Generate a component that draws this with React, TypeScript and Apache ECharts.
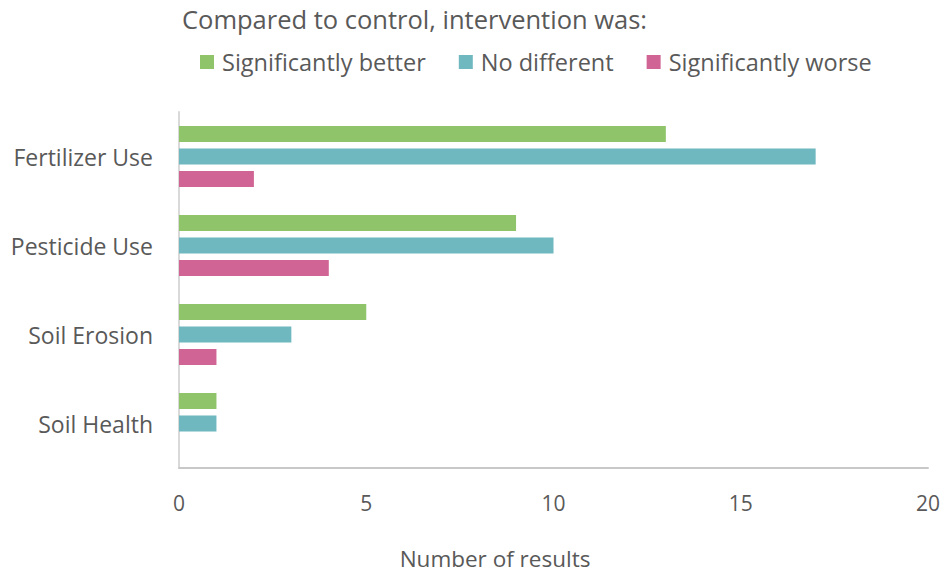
import React, { useEffect, useRef } from "react";
import * as echarts from "echarts";

const categories = ["Fertilizer Use", "Pesticide Use", "Soil Erosion", "Soil Health"];
const seriesNames = ["Significantly better", "No different", "Significantly worse"];
const better = [13, 9, 5, 1];
const noDiff = [17, 10, 3, 1];
const worse = [2, 4, 1, 0];
const colors = ["#8fc46a", "#6fb8c0", "#d06595"];
const xTicks = [0, 5, 10, 15, 20];
const titleText = "Compared to control, intervention was:";
const xAxisName = "Number of results";

const FONT = "'Open Sans', sans-serif";
const TXT = "#595959";

export default function App() {
  const ref = useRef<HTMLDivElement>(null);
  useEffect(() => {
    const chart = echarts.init(ref.current!, null, { renderer: "svg" });
    const data = [better, noDiff, worse];
    chart.setOption({
      animation: false,
      textStyle: { fontFamily: FONT },
      graphic: [
        {
          type: "text",
          left: 182,
          top: 6,
          style: { text: titleText, fontSize: 25.5, fill: TXT, fontFamily: FONT },
        },
        {
          type: "text",
          x: 495,
          y: 558,
          style: {
            text: xAxisName,
            fontSize: 22.5,
            lineHeight: 24,
            fill: TXT,
            fontFamily: FONT,
            align: "center",
            verticalAlign: "middle",
          },
        },
      ],
      legend: {
        left: 195,
        top: 45,
        icon: "rect",
        itemWidth: 14,
        itemHeight: 14,
        itemGap: 33,
        textStyle: { fontSize: 23.5, color: TXT, fontFamily: FONT, padding: [0, 0, 0, 3] },
        data: seriesNames,
      },
      grid: { left: 179, right: 16, top: 112, bottom: 105, outerBoundsMode: "none", containLabel: false },
      xAxis: {
        type: "value",
        min: xTicks[0],
        max: xTicks[xTicks.length - 1],
        interval: 5,
        axisLine: { show: true, lineStyle: { color: "#c8c8c8", width: 2 } },
        axisTick: { show: false },
        splitLine: { show: false },
        axisLabel: { fontSize: 21, color: TXT, margin: 24, fontFamily: FONT },
      },
      yAxis: {
        type: "category",
        inverse: true,
        data: categories,
        axisLine: { show: true, lineStyle: { color: "#d9d9d9", width: 2 } },
        axisTick: { show: false },
        axisLabel: { fontSize: 23, color: TXT, margin: 26, fontFamily: FONT },
      },
      series: seriesNames.map((n, i) => ({
        name: n,
        type: "bar",
        data: data[i],
        barWidth: 16,
        barGap: "40%",
        itemStyle: { color: colors[i] },
      })),
    });
    return () => chart.dispose();
  }, []);
  return <div ref={ref} style={{ width: 944, height: 573, position: "absolute", left: 0, top: 0 }} />;
}
